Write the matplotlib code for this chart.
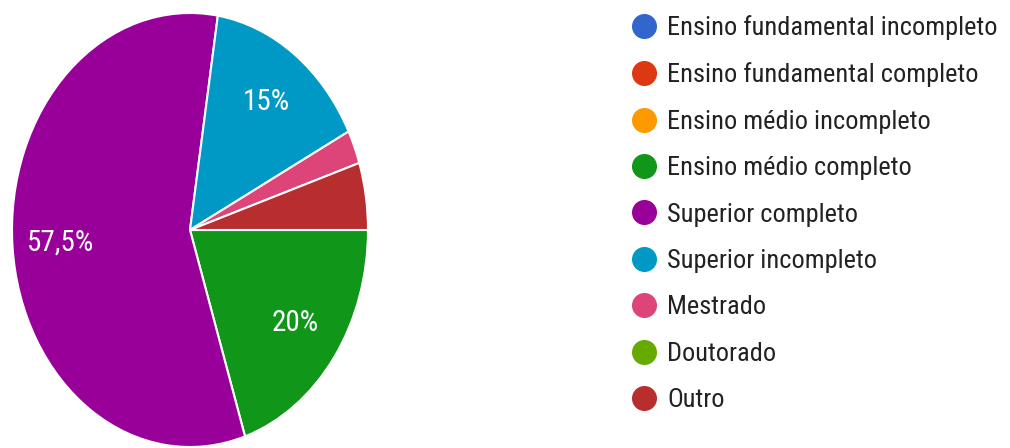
import matplotlib.pyplot as plt
from matplotlib.lines import Line2D
from matplotlib import font_manager

# Data (counts out of 40 answers)
categories = [
    "Ensino fundamental incompleto",
    "Ensino fundamental completo",
    "Ensino médio incompleto",
    "Ensino médio completo",
    "Superior completo",
    "Superior incompleto",
    "Mestrado",
    "Doutorado",
    "Outro",
]
counts = [0, 0, 0, 8, 23, 6, 1, 0, 2]
colors = ["#3366cc", "#dc3912", "#ff9900", "#109618", "#990099",
          "#0099c6", "#dd4477", "#66aa00", "#b82e2e"]

# the reference is stretched vertically, a narrow font mimics that
names = {f.name for f in font_manager.fontManager.ttflist}
if "Roboto Condensed" in names:
    font, legend_size, pct_size = "Roboto Condensed", 19, 21
elif "Liberation Sans Narrow" in names:
    font, legend_size, pct_size = "Liberation Sans Narrow", 20, 22
else:
    font, legend_size, pct_size = "Roboto", 17, 18.5

fig = plt.figure(figsize=(10.1, 4.48), dpi=100)
ax = fig.add_axes([12 / 1010, 1 / 448, 356 / 1010, 434 / 448])

# only slices with data, labels on big ones
vals = [v for v in counts if v > 0]
cols = [c for v, c in zip(counts, colors) if v > 0]


def pct(p):
    if p < 10:
        return ""
    s = f"{p:.1f}".rstrip("0").rstrip(".").replace(".", ",")
    return s + "%"


wedges, texts, autotexts = ax.pie(
    vals, colors=cols, startangle=0, counterclock=False,
    autopct=pct, pctdistance=0.73,
    wedgeprops=dict(edgecolor="white", linewidth=1.5),
    textprops=dict(color="white", fontsize=pct_size, family=font),
)
ax.set_aspect("auto")
ax.set_xlim(-1.0, 1.0)
ax.set_ylim(-1.0, 1.0)
ax.axis("off")

# legend with round markers
handles = [Line2D([], [], marker="o", linestyle="none", markersize=17,
                  markerfacecolor=c, markeredgecolor=c) for c in colors]
fig.legend(handles, categories, loc="upper left",
           bbox_to_anchor=(617.5 / 1010, 1 - 4.5 / 448), frameon=False,
           prop=dict(family=font, size=legend_size),
           labelcolor="#222222", handletextpad=0.29, handlelength=1.2,
           labelspacing=0.85, borderaxespad=0)

fig.savefig("out.png", dpi=100)
